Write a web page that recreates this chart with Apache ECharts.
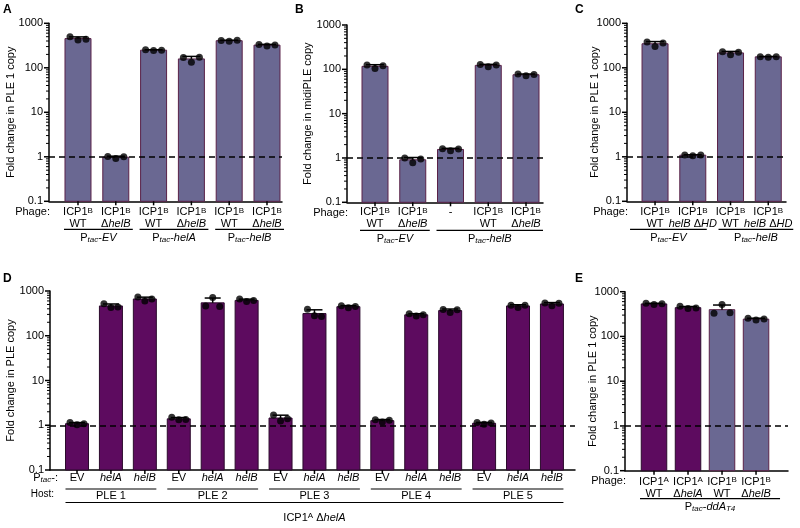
<!DOCTYPE html>
<html><head><meta charset="utf-8">
<script src="https://cdn.jsdelivr.net/npm/echarts@6/dist/echarts.min.js"></script>
<style>html,body{margin:0;padding:0;background:#fff}#c{width:800px;height:528px}</style>
</head><body><div id="c"></div>
<script>
const FONT = 'Liberation Sans, Arial, Helvetica, sans-serif';

// ---------- Panel A ----------
const A_labels = ['ICP1^{B}\nWT','ICP1^{B}\nΔ*helB*','ICP1^{B}\nWT','ICP1^{B}\nΔ*helB*','ICP1^{B}\nWT','ICP1^{B}\nΔ*helB*'];
const A_phageType = ['B','B','B','B','B','B'];
const A_replicates = [[500,420,440],[1.02,0.92,1.0],[255,245,248],[170,133,172],[410,395,415],[335,310,325]];
const A_groupLabels = ['P_{tac}-*EV*','P_{tac}-*helA*','P_{tac}-*helB*'];
const A_groupSpans = [[0,1],[2,3],[4,5]];
const A_yTitle = 'Fold change in PLE 1 copy';

// ---------- Panel B ----------
const B_labels = ['ICP1^{B}\nWT','ICP1^{B}\nΔ*helB*','-','ICP1^{B}\nWT','ICP1^{B}\nΔ*helB*'];
const B_phageType = ['B','B','B','B','B'];
const B_replicates = [[125,105,120],[1.0,0.78,0.95],[1.62,1.45,1.6],[128,115,125],[78,72,76]];
const B_groupLabels = ['P_{tac}-*EV*','P_{tac}-*helB*'];
const B_groupSpans = [[0,1],[2,4]];
const B_yTitle = 'Fold change in midiPLE copy';

// ---------- Panel C ----------
const C_labels = ['ICP1^{B}\nWT','ICP1^{B}\n*helB* Δ*HD*','ICP1^{B}\nWT','ICP1^{B}\n*helB* Δ*HD*'];
const C_phageType = ['B','B','B','B'];
const C_replicates = [[380,300,360],[1.1,1.06,1.1],[228,196,224],[178,172,178]];
const C_groupLabels = ['P_{tac}-*EV*','P_{tac}-*helB*'];
const C_groupSpans = [[0,1],[2,3]];
const C_yTitle = 'Fold change in PLE 1 copy';

// ---------- Panel D ----------
const D_labels = ['EV','*helA*','*helB*','EV','*helA*','*helB*','EV','*helA*','*helB*','EV','*helA*','*helB*','EV','*helA*','*helB*'];
const D_phageType = ['A','A','A','A','A','A','A','A','A','A','A','A','A','A','A'];
const D_replicates = [
  [1.15,1.02,1.08],[520,430,440],[730,600,660],
  [1.5,1.32,1.35],[460,720,450],[660,580,610],
  [1.7,1.25,1.4],[390,280,270],[470,420,450],
  [1.32,1.18,1.3],[310,275,295],[385,330,380],
  [1.15,1.05,1.12],[480,430,480],[540,470,530]
];
const D_hostLabels = ['PLE 1','PLE 2','PLE 3','PLE 4','PLE 5'];
const D_hostSpans = [[0,2],[3,5],[6,8],[9,11],[12,14]];
const D_phageLabel = 'ICP1^{A} Δ*helA*';
const D_phageSpan = [0,14];
const D_yTitle = 'Fold change in PLE copy';

// ---------- Panel E ----------
const E_labels = ['ICP1^{A}\nWT','ICP1^{A}\nΔ*helA*','ICP1^{B}\nWT','ICP1^{B}\nΔ*helB*'];
const E_phageType = ['A','A','B','B'];
const E_replicates = [[550,515,535],[470,420,430],[330,520,340],[255,232,245]];
const E_groupLabels = ['P_{tac}-*ddA*_{T4}'];
const E_groupSpans = [[0,3]];
const E_yTitle = 'Fold change in PLE 1 copy';

// ---------- styling / layout ----------
const COLORS = {A: '#5d0b5f', B: '#6a6892'};
const BORDERS = {A: '#2b0a2c', B: '#5a2248'};
const PANELS = [
  {letter:'A', labels:A_labels, types:A_phageType, reps:A_replicates, title:A_yTitle,
   left:49, top:23.3, width:233, height:178, xmin:-0.767, xmax:5.397, barW:26, capW:18, dotOff:8, nameGap:33, lm:5,
   letterPos:[3,4], rowLabel:'Phage:', groups:A_groupLabels, spans:A_groupSpans, pads:[[-14,17],[-14,17],[-14,17]]},
  {letter:'B', labels:B_labels, types:B_phageType, reps:B_replicates, title:B_yTitle,
   left:347, top:25, width:196, height:177.3, xmin:-0.742, xmax:4.45, barW:26, capW:18, dotOff:8, nameGap:34, lm:4,
   letterPos:[295,4], rowLabel:'Phage:', groups:B_groupLabels, spans:B_groupSpans, pads:[[-15,17],[-14,17]]},
  {letter:'C', labels:C_labels, types:C_phageType, reps:C_replicates, title:C_yTitle,
   left:627, top:23.3, width:159, height:178, xmin:-0.743, xmax:3.47, barW:26, capW:18, dotOff:8, nameGap:27, lm:5,
   letterPos:[575,4], rowLabel:'Phage:', groups:C_groupLabels, spans:C_groupSpans, pads:[[-25,14],[-12,25]]},
  {letter:'D', labels:D_labels, types:D_phageType, reps:D_replicates, title:D_yTitle,
   left:50, top:291, width:525, height:179, xmin:-0.796, xmax:14.68, barW:23, capW:16, dotOff:7, nameGap:34, lm:2,
   letterPos:[3,273]},
  {letter:'E', labels:E_labels, types:E_phageType, reps:E_replicates, title:E_yTitle,
   left:625, top:291.7, width:163, height:179, xmin:-0.853, xmax:3.94, barW:25.5, capW:18, dotOff:8, nameGap:27, lm:5,
   letterPos:[575,273], rowLabel:'Phage:', groups:E_groupLabels, spans:E_groupSpans, pads:[[-14,24]]}
];
const MAJOR = [0.1, 1, 10, 100, 1000];
const MINOR = [];
[0.1,1,10,100].forEach(d => { for (let k = 2; k <= 9; k++) MINOR.push(+(k*d).toPrecision(3)); });

// markup -> echarts rich text
function rich(s) {
  let out = '', buf = '', italic = false, i = 0;
  const flush = () => { if (buf) { out += '{' + (italic ? 'i' : 'n') + '|' + buf + '}'; buf = ''; } };
  while (i < s.length) {
    const c = s[i];
    if ((c === '^' || c === '_') && s[i+1] === '{') {
      flush();
      const j = s.indexOf('}', i);
      out += '{' + (c === '^' ? 'sup' : 'sub') + '|' + s.slice(i+2, j) + '}';
      i = j + 1; continue;
    }
    if (c === '*') { flush(); italic = !italic; i++; continue; }
    if (c === '\n') { flush(); out += '\n'; i++; continue; }
    buf += c; i++;
  }
  flush();
  return out;
}
function richStyles(fs) {
  const lh = fs + 1;
  return {
    n: {fontSize: fs, fontFamily: FONT, color: '#000', lineHeight: lh},
    i: {fontSize: fs, fontFamily: FONT, color: '#000', fontStyle: 'italic', lineHeight: lh},
    sup: {fontSize: Math.round(fs*0.7), fontFamily: FONT, color: '#000', lineHeight: 5, verticalAlign: 'top'},
    sub: {fontSize: Math.round(fs*0.7), fontFamily: FONT, color: '#000', fontStyle: 'italic', lineHeight: 7, verticalAlign: 'bottom'}
  };
}
function mean(a) { return a.reduce((s,v)=>s+v,0)/a.length; }
function sd(a) { const m = mean(a); return Math.sqrt(a.reduce((s,v)=>s+(v-m)*(v-m),0)/(a.length-1)); }

const chart = echarts.init(document.getElementById('c'), null, {renderer: 'canvas'});
const grids = [], xAxes = [], yAxes = [], series = [];

PANELS.forEach((P, k) => {
  grids.push({left: P.left, top: P.top, width: P.width, height: P.height, containLabel: false, outerBoundsMode: 'none'});
  xAxes.push({
    type: 'value', gridIndex: k, min: P.xmin, max: P.xmax,
    axisLine: {show: true, onZero: false, lineStyle: {color: '#000', width: 1.5}},
    axisTick: {show: false}, axisLabel: {show: false}, splitLine: {show: false}
  });
  yAxes.push({
    type: 'log', logBase: 10, gridIndex: k, min: 0.1, max: 1000, splitNumber: 4,
    name: P.title, nameLocation: 'middle', nameGap: P.nameGap, nameMoveOverlap: false,
    nameTextStyle: {fontFamily: FONT, fontSize: 11, color: '#000'},
    axisLine: {show: true, onZero: false, lineStyle: {color: '#000', width: 1.5}},
    axisTick: {show: false},
    axisLabel: {color: '#000', fontFamily: FONT, fontSize: 11, margin: 6,
      formatter: v => String(parseFloat(Number(v).toPrecision(6)))},
    splitLine: {show: false}, minorTick: {show: false}
  });
  const barData = P.reps.map((r, i) => [i, mean(r), sd(r), P.types[i] === 'A' ? 1 : 0]);
  series.push({
    type: 'custom', xAxisIndex: k, yAxisIndex: k, z: 2, clip: false,
    encode: {x: 0, y: 1},
    data: barData,
    renderItem: (params, api) => {
      const x = api.value(0), m = api.value(1), s = api.value(2), t = api.value(3) ? 'A' : 'B';
      const p = api.coord([x, m]);
      const b = api.coord([x, 0.1]);
      const u = api.coord([x, m + s]);
      return {type: 'group', children: [
        {type: 'rect', shape: {x: p[0] - P.barW/2, y: p[1], width: P.barW, height: b[1] - p[1]},
         style: {fill: COLORS[t], stroke: BORDERS[t], lineWidth: 1}},
        {type: 'line', shape: {x1: p[0], y1: p[1], x2: p[0], y2: u[1]}, style: {stroke: '#000', lineWidth: 1.5}},
        {type: 'line', shape: {x1: p[0] - P.capW/2, y1: u[1], x2: p[0] + P.capW/2, y2: u[1]}, style: {stroke: '#000', lineWidth: 1.5}}
      ]};
    }
  });
  const dots = [];
  P.reps.forEach((r, i) => r.forEach((v, j) => dots.push({value: [i, v], symbolOffset: [(j - 1) * P.dotOff, 0]})));
  series.push({
    type: 'scatter', xAxisIndex: k, yAxisIndex: k, z: 3, symbol: 'circle', symbolSize: 7,
    itemStyle: {color: '#000'}, data: dots, silent: true,
    markLine: {silent: true, symbol: ['none','none'], label: {show: false},
      lineStyle: {type: [6,4], color: '#000', width: 1.5}, data: [{yAxis: 1}]}
  });
});

chart.setOption({
  animation: false, backgroundColor: '#fff',
  grid: grids, xAxis: xAxes, yAxis: yAxes, series: series
});

// annotations (ticks, labels, group lines) positioned through the axes
const G = [];
const txt = (x, y, s, opt) => G.push({type: 'text', x: x, y: y, z: 10,
  style: Object.assign({text: rich(s), rich: richStyles((opt && opt.fs) || 11), align: 'center', verticalAlign: 'middle'}, (opt && opt.style) || {})});
const seg = (x1, y1, x2, y2, w) => G.push({type: 'line', z: 10, shape: {x1: x1, y1: y1, x2: x2, y2: y2}, style: {stroke: '#000', lineWidth: w || 1.2}});
const line = (x1, x2, y) => seg(x1, y, x2, y, 1.2);
const px = (k, v) => chart.convertToPixel({xAxisIndex: k}, v);
const py = (k, v) => chart.convertToPixel({yAxisIndex: k}, v);

PANELS.forEach((P, k) => {
  G.push({type: 'text', x: P.letterPos[0], y: P.letterPos[1], z: 10,
    style: {text: P.letter, fontFamily: FONT, fontSize: 12, fontWeight: 'bold', fill: '#000'}});
  const Yb = P.top + P.height;
  const xl = P.left;
  MAJOR.forEach(v => { const y = py(k, v); seg(xl - 5, y, xl, y, 1.5); });
  MINOR.forEach(v => { const y = py(k, v); seg(xl - 3, y, xl, y, 1); });
  P.labels.forEach((s, i) => {
    const x = px(k, i);
    seg(x, Yb, x, Yb + 4, 1.5);
    txt(x, Yb + P.lm, s, {style: {verticalAlign: 'top'}});
  });
  if (P.groups) {
    txt(P.left + 1, Yb + 10.5, P.rowLabel, {style: {align: 'right'}});
    P.groups.forEach((g, gi) => {
      const sp = P.spans[gi], pad = P.pads[gi];
      const x1 = px(k, sp[0]) + pad[0], x2 = px(k, sp[1]) + pad[1];
      line(x1, x2, Yb + 28);
      txt((x1 + x2) / 2, Yb + 36.5, g);
    });
  }
});
// Panel D extra rows
(function () {
  const k = 3, P = PANELS[3], Yb = P.top + P.height;
  txt(58, Yb + 8, 'P_{tac}-:', {style: {align: 'right'}});
  txt(54, Yb + 24.5, 'Host:', {fs: 10, style: {align: 'right'}});
  D_hostSpans.forEach((sp, i) => {
    const x1 = px(k, sp[0]) - P.barW/2, x2 = px(k, sp[1]) + P.barW/2;
    line(x1, x2, Yb + 19);
    txt(px(k, (sp[0] + sp[1]) / 2), Yb + 25.5, D_hostLabels[i]);
  });
  const x1 = px(k, D_phageSpan[0]) - P.barW/2, x2 = px(k, D_phageSpan[1]) + P.barW/2;
  line(x1, x2, Yb + 32.5);
  txt((x1 + x2) / 2, Yb + 47.5, D_phageLabel);
})();

chart.setOption({graphic: G});
</script></body></html>
